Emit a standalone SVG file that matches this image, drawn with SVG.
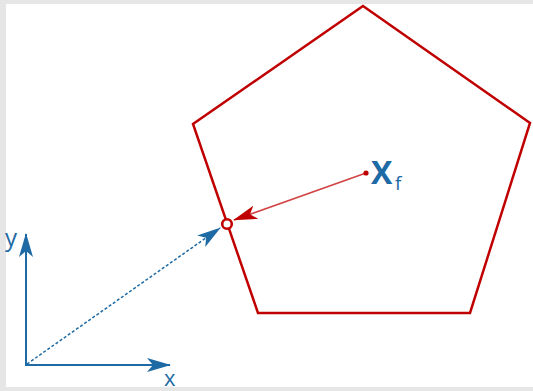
<svg xmlns="http://www.w3.org/2000/svg" width="533" height="391" viewBox="0 0 533 391">
<style>
.blue{stroke:#1d6aa5;fill:none}
.lbl{font-family:"Open Sans","DejaVu Sans",sans-serif;fill:#1d6aa5}
</style>
<defs>
<marker id="abl" viewBox="0 0 24 14" refX="23" refY="7" markerWidth="24" markerHeight="14" markerUnits="userSpaceOnUse" orient="auto"><path d="M0,0 L24,7 L0,14 L6,7 Z" fill="#1d6aa5"/></marker>
<marker id="ar" viewBox="0 0 24 14" refX="23" refY="7" markerWidth="24" markerHeight="14" markerUnits="userSpaceOnUse" orient="auto"><path d="M0,0 L24,7 L0,14 L6,7 Z" fill="#c00000"/></marker>
</defs>
<rect x="0" y="0" width="533" height="391" fill="#e6e6e6"/>
<rect x="6" y="4" width="527" height="383" fill="#ffffff"/>
<g id="pentagon"><polygon points="363,6 530,123 470,313 258,313 193,124" fill="none" stroke="#c00000" stroke-width="2.5" stroke-linejoin="miter"/></g>
<g id="connectors">
<line x1="26" y1="365" x2="26" y2="234" class="blue" stroke-width="2" marker-end="url(#abl)"/>
<line x1="25" y1="365" x2="170" y2="365" class="blue" stroke-width="2" marker-end="url(#abl)"/>
<line x1="27" y1="364" x2="220" y2="228" class="blue" stroke-width="1.5" stroke-dasharray="3,2" marker-end="url(#abl)"/>
<line x1="366" y1="173" x2="234" y2="220" stroke="#d24343" stroke-width="1.6" marker-end="url(#ar)"/>
</g>
<g id="point"><circle cx="227" cy="224" r="4.8" fill="#fff" stroke="#c00000" stroke-width="2.6"/></g>
<g id="centroid"><circle cx="366" cy="173" r="2.6" fill="#c00000"/></g>
<g id="labels">
<text x="5" y="246" class="lbl" font-size="24">y</text>
<text x="164" y="386" class="lbl" font-size="22">x</text>
<text x="371" y="184" class="lbl" font-size="32" font-weight="bold">X</text>
<text x="395" y="190" class="lbl" font-size="19">f</text>
</g>
</svg>
